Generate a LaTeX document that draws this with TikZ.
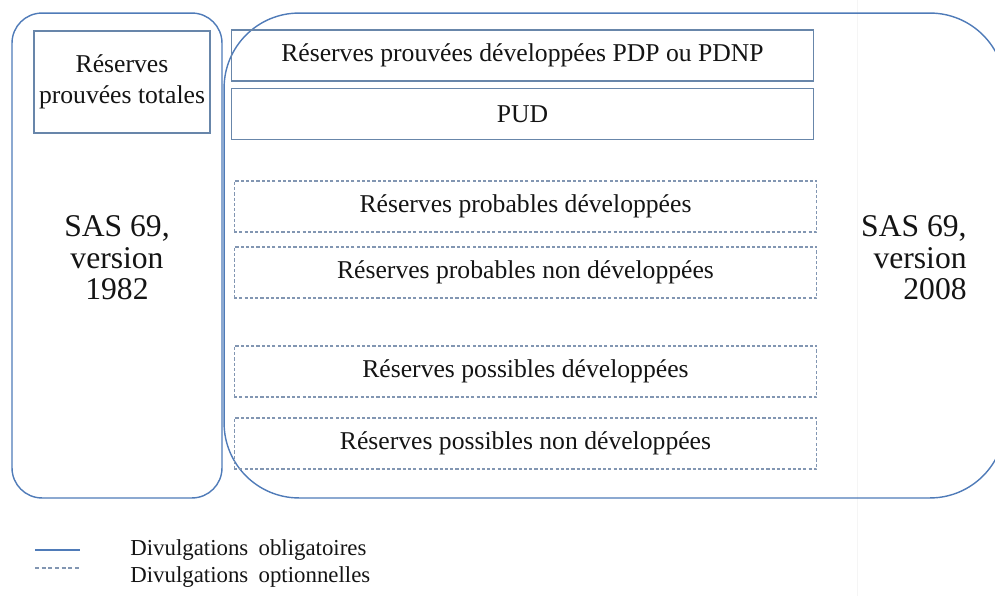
\documentclass[tikz,border=0pt]{standalone}
\usepackage{fontspec}
\setmainfont{Liberation Serif}
\usepackage{tikz}
\usetikzlibrary{positioning}
\definecolor{frameblue}{RGB}{79,123,184}
\definecolor{boxblue}{RGB}{104,134,170}
\definecolor{dashblue}{RGB}{130,150,178}
\definecolor{inktext}{RGB}{20,20,20}

\begin{document}
\begin{tikzpicture}[x=0.02cm, y=-0.02cm, text=inktext,
  frame/.style={draw=frameblue, line width=0.8pt, inner sep=0pt},
  solidbox/.style={draw=boxblue, line width=0.6pt, minimum width=11.66cm, minimum height=1.02cm, inner sep=0pt, font=\fontsize{14.6}{17.5}\selectfont},
  dashbox/.style={draw=dashblue, line width=0.6pt, dash pattern=on 1.8pt off 1.2pt, minimum width=11.66cm, minimum height=1.02cm, inner sep=0pt, font=\fontsize{14.6}{17.5}\selectfont},
  version/.style={font=\fontsize{18}{18}\selectfont, inner sep=0pt},
  legendtext/.style={font=\fontsize{13}{15}\selectfont, anchor=west, inner sep=0pt}]

\useasboundingbox (0,0) rectangle (995,596);
\clip (0,0) rectangle (995,596);

% faint page edge
\draw[black!4] (857,0) -- (857,596);

% the two standards
\node[frame, rounded corners=0.6cm, minimum width=4.2cm, minimum height=9.7cm] (old) at (117,255.5) {};
\node[frame, rounded corners=1.5cm, minimum width=15.62cm, minimum height=9.7cm] (new) at (614.5,255.5) {};

\node[draw=boxblue, line width=0.6pt, minimum width=3.52cm, minimum height=2.04cm, align=center, inner sep=0pt, font=\fontsize{14.6}{17.5}\selectfont] (total) at (122,82) {Réserves\\prouvées totales};

\node[version, align=center] (v1982) at (117,258) {SAS 69,\\version\\1982};
\node[version, align=right, anchor=east] (v2008) at (967,258) {SAS 69,\\version\\2008};

% proved reserves
\node[solidbox] (pdp) at (522.5,55.5) {Réserves prouvées développées PDP ou PDNP};
\node[solidbox] (pud) at (522.5,114) {PUD};

% optional reserves
\node[dashbox] (probdev) at (525.5,206.5) {Réserves probables développées};
\node[dashbox] (probnon) at (525.5,272.5) {Réserves probables non développées};
\node[dashbox] (possdev) at (525.5,371.5) {Réserves possibles développées};
\node[dashbox] (possnon) at (525.5,443.5) {Réserves possibles non développées};

% legend
\coordinate (sa) at (35,550);
\coordinate (sb) at (80,550);
\coordinate (da) at (35,568);
\coordinate (db) at (80,568);
\draw[frameblue, line width=0.7pt] (sa) -- (sb);
\draw[dashblue, line width=0.7pt, dash pattern=on 2.2pt off 1.6pt] (da) -- (db);
\node[legendtext] (oblig) at (130,550) {Divulgations\hspace{0.45em}obligatoires};
\node[legendtext] (option) at (130,577) {Divulgations\hspace{0.45em}optionnelles};

\end{tikzpicture}
\end{document}
